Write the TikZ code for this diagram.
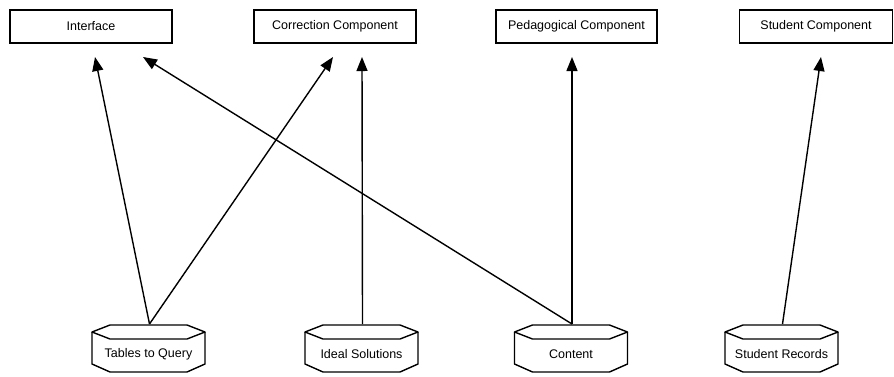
\documentclass[tikz,border=0pt]{standalone}
\usepackage{fontspec}
\setmainfont{Liberation Sans}
\usetikzlibrary{arrows.meta,calc}
\begin{document}
\begin{tikzpicture}[x=1pt,y=-1pt,
  comp/.style={draw,line width=1.4pt,rectangle,minimum height=33pt,inner sep=0pt,font=\fontsize{12.5}{14}\selectfont},
  store/.style={inner sep=0pt,font=\fontsize{12.5}{14}\selectfont},
  drum/.style={line width=1.4pt,line join=round},
  flow/.style={line width=1.4pt,-{Triangle[length=14pt,width=11pt]}}]
\useasboundingbox (0,0) rectangle (894,376);
\fill[white] (0,0) rectangle (894,376);
% components
\node[comp,minimum width=162pt] (intf) at (91,26.5) {Interface};
\node[comp,minimum width=162pt] (corr) at (335,26.5) {Correction Component};
\node[comp,minimum width=161pt] (peda) at (576.5,26.5) {Pedagogical Component};
\node[comp,minimum width=153pt] (stud) at (816,26.5) {Student Component};
% data stores
\foreach \nm/\cx/\txt in {tq/148.5/Tables to Query, is/361.5/Ideal Solutions, ct/571/Content, sr/781.5/Student Records}{
  \pgfmathsetmacro\L{\cx-56.5}
  \pgfmathsetmacro\R{\cx+56.5}
  \pgfmathsetmacro\La{\cx-38.5}
  \pgfmathsetmacro\Ra{\cx+38.5}
  \draw[drum] (\L,332) -- (\La,325) -- (\Ra,325) -- (\R,332) -- (\Ra,339) -- (\La,339) -- cycle;
  \draw[drum] (\L,332) -- (\L,364) -- (\La,372) -- (\Ra,372) -- (\R,364) -- (\R,332);
  \node[store] (\nm) at (\cx,354) {\txt};
  \coordinate (\nm top) at (\cx+1,324);
}
% arrow tips
\coordinate (intfA) at (95,57);
\coordinate (intfB) at (143,57);
\coordinate (corrA) at (333,57);
\coordinate (corrB) at (362,57);
\coordinate (pedaA) at (572,57);
\coordinate (studA) at (821,57);
% connectors
\draw[flow] (tqtop) -- (intfA);
\draw[flow] (tqtop) -- (corrA);
\draw[flow] (cttop) -- (intfB);
\draw[flow] (istop) -- (corrB);
\draw[flow] (cttop) -- (pedaA);
\draw[flow] (srtop) -- (studA);
\end{tikzpicture}
\end{document}
